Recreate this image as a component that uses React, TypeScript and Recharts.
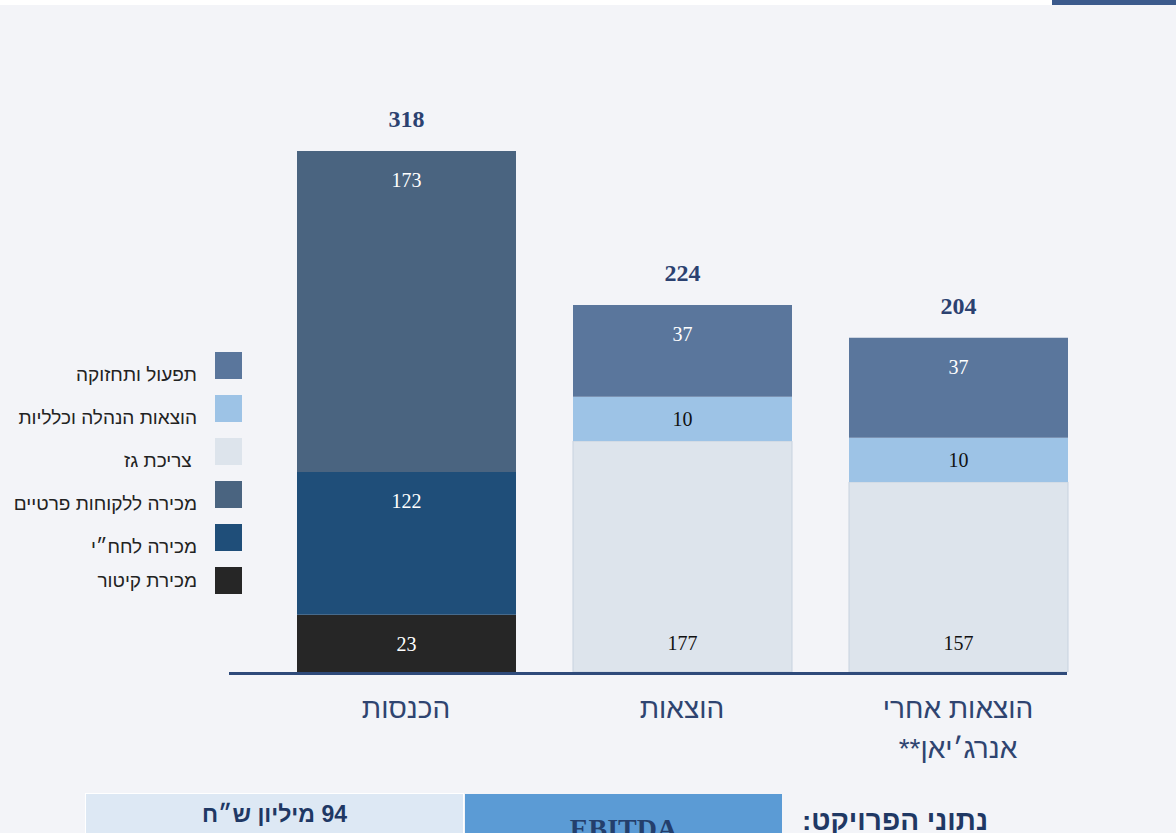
import React from 'react';
import { BarChart, Bar, XAxis, YAxis, Legend, LabelList } from 'recharts';

// categories (x axis), split into the lines they are printed on
const categories = ['הכנסות', 'הוצאות', 'הוצאות אחרי אנרג׳יאן**'];
const categoryLines = [['הכנסות'], ['הוצאות'], ['הוצאות אחרי', 'אנרג׳יאן**']];

// totals printed above each column
const totals = [318, 224, 204];

// segment heights as drawn in the picture
const kitorValues = [35, null, null];
const iecValues = [87, null, null];
const privateValues = [196, null, null];
const gasValues = [null, 141, 116];
const adminValues = [null, 27, 27];
const opsValues = [null, 56, 61];

// numbers printed inside the segments
const kitorLabels = [23, null, null];
const iecLabels = [122, null, null];
const privateLabels = [173, null, null];
const gasLabels = [null, 177, 157];
const adminLabels = [null, 10, 10];
const opsLabels = [null, 37, 37];

const data = categories.map((name, i) => ({
  name,
  kitor: kitorValues[i],
  iec: iecValues[i],
  priv: privateValues[i],
  gas: gasValues[i],
  admin: adminValues[i],
  ops: opsValues[i],
}));

// stack order, bottom to top
const series = [
  { key: 'kitor', name: 'מכירת קיטור', fill: '#262626', text: '#ffffff', labels: kitorLabels, place: 'top', values: kitorValues },
  { key: 'iec', name: 'מכירה לחח״י', fill: '#1f4e79', text: '#ffffff', labels: iecLabels, place: 'top', values: iecValues },
  { key: 'priv', name: 'מכירה ללקוחות פרטיים', fill: '#4a6480', text: '#ffffff', labels: privateLabels, place: 'top', values: privateValues, total: true },
  { key: 'gas', name: '\u00A0צריכת גז', fill: '#dde4ec', text: '#111111', labels: gasLabels, place: 'bottom', values: gasValues },
  { key: 'admin', name: 'הוצאות הנהלה וכלליות', fill: '#9dc3e6', text: '#111111', labels: adminLabels, place: 'middle', values: adminValues },
  { key: 'ops', name: 'תפעול ותחזוקה', fill: '#5a769c', text: '#ffffff', labels: opsLabels, place: 'top', values: opsValues, total: true },
];

const catIndex = (d: any) => categories.indexOf(d && d.name);

const box = (p: any) => {
  const v = p.viewBox && p.viewBox.width != null ? p.viewBox : p;
  return { x: Number(v.x), y: Number(v.y), width: Number(v.width), height: Number(v.height) };
};

const segmentLabel = (s: any) => (p: any) => {
  if (p.value == null) return null;
  const { x, y, width, height } = box(p);
  if (!height) return null;
  const top = Math.min(y, y + height);
  const h = Math.abs(height);
  const cy = s.place === 'top' ? top + 29 : s.place === 'bottom' ? top + h - 29 : top + h / 2;
  return (
    <text x={x + width / 2} y={cy} textAnchor="middle" dominantBaseline="central" fill={s.text}
      fontSize={20} fontFamily="Liberation Serif">
      {p.value}
    </text>
  );
};

const totalLabel = (p: any) => {
  if (p.value == null) return null;
  const { x, y, width, height } = box(p);
  const top = Math.min(y, y + height);
  return (
    <text x={x + width / 2} y={top - 32} textAnchor="middle" dominantBaseline="central" fill="#2b4170"
      fontSize={24} fontWeight="bold" fontFamily="Liberation Serif">
      {p.value}
    </text>
  );
};

const CategoryTick = (p: any) => {
  const { x, y, payload } = p;
  const i = categories.indexOf(payload.value);
  const lines = categoryLines[i] || [payload.value];
  return (
    <text x={x} y={y} textAnchor="middle" fill="#2f4470" fontSize={28} fontFamily="Liberation Sans" direction="rtl">
      {lines.map((l, k) => (
        <tspan key={k} x={x} dy={k === 0 ? 46 : 40}>{l}</tspan>
      ))}
    </text>
  );
};

const order = series.map((s) => s.key);

const renderLegend = (p: any) => {
  const items = [...(p.payload || [])].sort((a: any, b: any) => order.indexOf(b.dataKey) - order.indexOf(a.dataKey));
  return (
    <div style={{ width: 250, position: 'relative' }}>
      {items.map((it: any, i: number) => (
        <div key={i} style={{ position: 'relative', height: 43 }}>
          <span style={{ position: 'absolute', left: 215, top: 0, width: 27, height: 27, background: it.color }} />
          <span style={{ position: 'absolute', right: 53, top: i === items.length - 1 ? 3 : 12, fontSize: 19, lineHeight: '22px',
            direction: 'rtl', whiteSpace: 'nowrap', color: '#222', fontFamily: 'Liberation Sans' }}>
            {it.value}
          </span>
        </div>
      ))}
    </div>
  );
};

export default function App() {
  return (
    <div style={{ position: 'absolute', left: 0, top: 0, width: 1176, height: 833, background: '#f3f4f8', overflow: 'hidden', fontFamily: 'Liberation Sans' }}>
      <div style={{ position: 'absolute', left: 0, top: 0, width: 1176, height: 5, background: '#ffffff' }} />
      <div style={{ position: 'absolute', left: 1052, top: 0, width: 124, height: 5, background: '#3b5a8c' }} />

      <div style={{ position: 'absolute', left: 0, top: 0 }}>
        <BarChart width={1176} height={833} data={data} margin={{ top: 151, right: 80, bottom: 101, left: 268 }}>
          <XAxis dataKey="name" height={60} axisLine={false} tickLine={false} tickSize={0} tickMargin={0}
            interval={0} tick={<CategoryTick />} />
          <YAxis hide width={0} type="number" domain={[0, 318]} allowDataOverflow />
          <Legend layout="vertical" align="center" verticalAlign="middle" content={renderLegend}
            wrapperStyle={{ left: 0, top: 352, width: 250, height: 260 }} />
          {series.map((s) => (
            <Bar key={s.key} dataKey={s.key} name={s.name} stackId="a" fill={s.fill} barSize={219}
              stroke={s.key === 'gas' ? '#c7d2df' : undefined} strokeWidth={s.key === 'gas' ? 1 : 0}
              isAnimationActive={false}>
              <LabelList dataKey={(d: any) => { const i = catIndex(d); return i < 0 || s.values[i] == null ? null : s.labels[i]; }}
                content={segmentLabel(s)} />
              {s.total ? (
                <LabelList dataKey={(d: any) => { const i = catIndex(d); return i < 0 || s.values[i] == null ? null : totals[i]; }}
                  content={totalLabel} />
              ) : null}
            </Bar>
          ))}
        </BarChart>
      </div>

      {/* base line under the columns */}
      <div style={{ position: 'absolute', left: 229, top: 672, width: 838, height: 3, background: '#2e4a7a' }} />

      {/* project data strip at the bottom */}
      <div style={{ position: 'absolute', left: 85, top: 793, width: 377, height: 60, background: '#dde8f4', border: '1px solid #ffffff',
        textAlign: 'center', direction: 'rtl', color: '#1f3864', fontWeight: 'bold', fontSize: 23, lineHeight: '40px' }}>
        94 מיליון ש״ח
      </div>
      <div style={{ position: 'absolute', left: 465, top: 794, width: 317, height: 60, background: '#5b9bd5',
        textAlign: 'center', color: '#243f6c', fontWeight: 'bold', fontSize: 28, fontFamily: 'Liberation Serif', paddingTop: 20, boxSizing: 'border-box', lineHeight: '30px' }}>
        EBITDA
      </div>
      <div style={{ position: 'absolute', left: 788, top: 801, width: 200, textAlign: 'right', direction: 'rtl',
        color: '#1f3864', fontWeight: 'bold', fontSize: 28, lineHeight: '40px', whiteSpace: 'nowrap' }}>
        נתוני הפרויקט:
      </div>
    </div>
  );
}
